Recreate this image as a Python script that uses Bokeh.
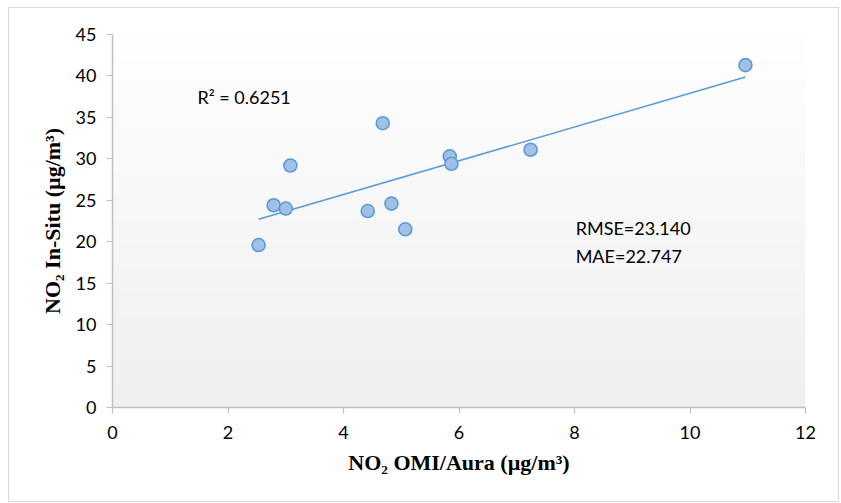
import numpy as np
from bokeh.plotting import figure
from bokeh.models import Label, FixedTicker, Range1d
from bokeh.embed import file_html
from bokeh.resources import INLINE

# Data
omi_aura = [2.53, 2.79, 3.00, 3.08, 4.42, 4.68, 4.83, 5.07, 5.84, 5.87, 7.24, 10.96]
in_situ = [19.6, 24.4, 24.0, 29.2, 23.7, 34.3, 24.6, 21.5, 30.3, 29.4, 31.1, 41.3]
x_ticks = [0, 2, 4, 6, 8, 10, 12]
y_ticks = [0, 5, 10, 15, 20, 25, 30, 35, 40, 45]
r2_text = "R\u00b2 = 0.6251"
rmse_text = "RMSE=23.140"
mae_text = "MAE=22.747"

W, H = 831, 495
p = figure(width=W, height=H, output_backend="svg", toolbar_location=None,
           x_range=Range1d(0, 12), y_range=Range1d(0, 45),
           min_border_left=103, min_border_right=35, min_border_top=26, min_border_bottom=96)
p.styles = {"border": "1px solid #d9d9d9", "box-sizing": "border-box",
            "margin-left": "8px", "margin-top": "7px"}
p.outline_line_color = None
p.grid.visible = False
p.background_fill_color = "white"
p.border_fill_color = "white"

# vertical gradient background (white at top -> light grey at bottom)
n = 200
vals = np.linspace(239, 255, n)
img = np.zeros((n, 1), dtype=np.uint32)
view = img.view(dtype=np.uint8).reshape((n, 1, 4))
for i, v in enumerate(vals):
    view[i, 0, 0] = int(v)
    view[i, 0, 1] = int(v)
    view[i, 0, 2] = int(v)
    view[i, 0, 3] = 255
p.image_rgba(image=[img], x=0, y=0, dw=12, dh=45, level="image")

# trendline from least squares fit
xa = np.array(omi_aura)
ya = np.array(in_situ)
m, b = np.polyfit(xa, ya, 1)
xl = [xa.min(), xa.max()]
p.line(xl, [m * v + b for v in xl], line_color="#5b9bd5", line_width=1.6)

p.scatter(omi_aura, in_situ, size=13, fill_color="#a2c0e6", line_color="#5b9bd5",
          line_width=1.6)

tick_font = "Lato"
for ax in (p.xaxis[0], p.yaxis[0]):
    ax.axis_line_color = "#bfbfbf"
    ax.axis_line_width = 1.5
    ax.major_tick_line_color = "#bfbfbf"
    ax.major_tick_line_width = 1.2
    ax.major_tick_out = 6
    ax.major_tick_in = 0
    ax.minor_tick_line_color = None
    ax.major_label_text_font = tick_font
    ax.major_label_text_font_size = "18px"
    ax.major_label_text_color = "#000000"
    ax.axis_label_text_font = "Liberation Serif"
    ax.axis_label_text_font_style = "bold"
    ax.axis_label_text_font_size = "22px"
    ax.axis_label_text_color = "#000000"

p.xaxis.ticker = FixedTicker(ticks=x_ticks)
p.yaxis.ticker = FixedTicker(ticks=y_ticks)
p.xaxis.major_label_standoff = 12
p.yaxis.major_label_standoff = 10
p.xaxis.axis_label = "NO\u2082 OMI/Aura (\u00b5g/m\u00b3)"
p.yaxis.axis_label = "NO\u2082 In-Situ (\u00b5g/m\u00b3)"
p.xaxis.axis_label_standoff = 8
p.yaxis.axis_label_standoff = 8

for txt, xx, yy in [(r2_text, 1.47, 37.5), (rmse_text, 8.02, 21.6), (mae_text, 8.02, 18.3)]:
    p.add_layout(Label(x=xx, y=yy, text=txt, text_font=tick_font, text_font_size="18px",
                       text_color="#000000", text_baseline="middle", text_align="left"))

open("out.html", "w").write(file_html(p, INLINE))
